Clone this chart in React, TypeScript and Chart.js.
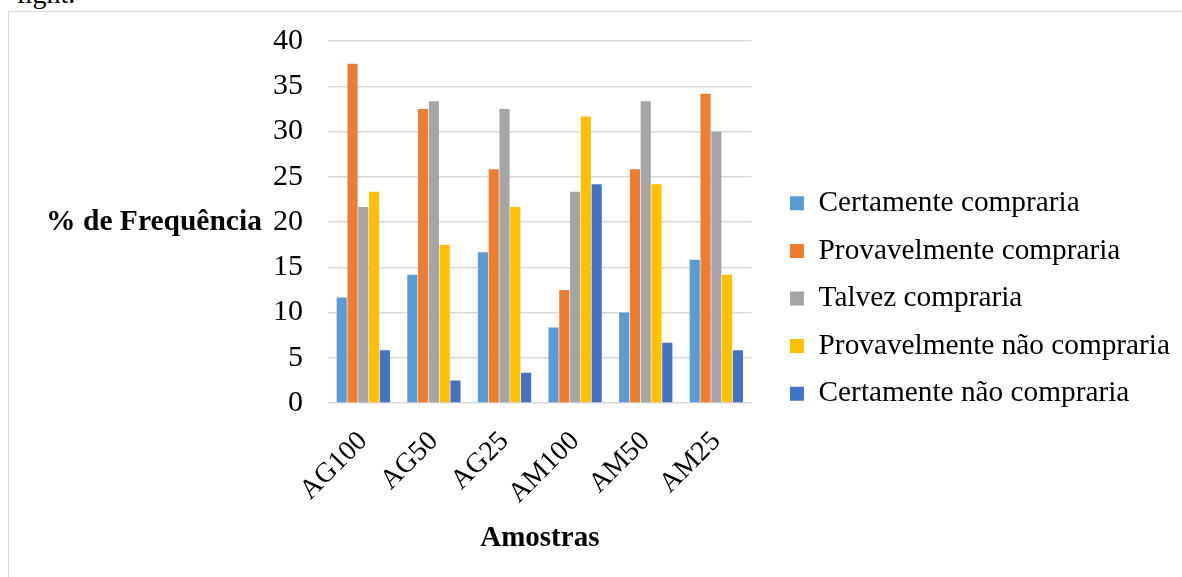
import React, { useEffect, useRef } from "react";
import { Chart, registerables } from "chart.js";

Chart.register(...registerables);

const categories = ["AG100", "AG50", "AG25", "AM100", "AM50", "AM25"];
const seriesLabels = [
  "Certamente compraria",
  "Provavelmente compraria",
  "Talvez compraria",
  "Provavelmente não compraria",
  "Certamente não compraria",
];
const certamenteCompraria = [11.67, 14.17, 16.67, 8.33, 10.0, 15.83];
const provavelmenteCompraria = [37.5, 32.5, 25.83, 12.5, 25.83, 34.17];
const talvezCompraria = [21.67, 33.33, 32.5, 23.33, 33.33, 30.0];
const provavelmenteNaoCompraria = [23.33, 17.5, 21.67, 31.67, 24.17, 14.17];
const certamenteNaoCompraria = [5.83, 2.5, 3.33, 24.17, 6.67, 5.83];
const seriesColors = ["#5B9BD5", "#ED7D31", "#A5A5A5", "#FFC000", "#4472C4"];
const yMin = 0;
const yMax = 40;
const yStep = 5;
const yTitle = "% de Frequência";
const xTitle = "Amostras";

const SERIF = '"Liberation Serif", "Times New Roman", serif';

const yTitlePlugin = {
  id: "yTitleHorizontal",
  afterDraw(chart: any) {
    const ctx = chart.ctx;
    ctx.save();
    ctx.font = `bold 29.5px ${SERIF}`;
    ctx.fillStyle = "#000";
    ctx.textAlign = "center";
    ctx.textBaseline = "alphabetic";
    ctx.fillText(yTitle, 145, 218);
    ctx.restore();
  },
};

export default function App() {
  const ref = useRef<HTMLCanvasElement>(null);
  useEffect(() => {
    if (!ref.current) return;
    const values = [
      certamenteCompraria,
      provavelmenteCompraria,
      talvezCompraria,
      provavelmenteNaoCompraria,
      certamenteNaoCompraria,
    ];
    const chart = new Chart(ref.current, {
      type: "bar",
      data: {
        labels: categories,
        datasets: values.map((d, i) => ({
          label: seriesLabels[i],
          data: d,
          backgroundColor: seriesColors[i],
          borderWidth: 0,
          categoryPercentage: 0.764,
          barPercentage: 0.94,
        })),
      },
      plugins: [yTitlePlugin],
      options: {
        animation: false,
        responsive: false,
        devicePixelRatio: 1,
        layout: { padding: { top: 29, bottom: 21, left: 0, right: 2 } },
        plugins: {
          tooltip: { enabled: false },
          legend: {
            position: "right",
            align: "center",
            maxWidth: 440,
            labels: {
              boxWidth: 14,
              boxHeight: 14,
              padding: 18.3,
              color: "#000",
              font: { family: SERIF, size: 29.3 },
            },
          },
        },
        scales: {
          x: {
            grid: { display: false },
            border: { display: false },
            ticks: {
              color: "#000",
              font: { family: SERIF, size: 28 },
              maxRotation: 45,
              minRotation: 45,
              padding: 14,
            },
            title: {
              display: true,
              text: xTitle,
              color: "#000",
              font: { family: SERIF, size: 29, weight: "bold" },
              padding: { top: 0, bottom: 0 },
            },
            afterFit(scale: any) {
              scale.height = 153;
            },
          },
          y: {
            min: yMin,
            max: yMax,
            grid: {
              color: "#d9d9d9",
              lineWidth: 1.5,
              drawTicks: true,
              tickLength: 22,
              tickColor: "rgba(0,0,0,0)",
            },
            border: { display: false },
            ticks: {
              stepSize: yStep,
              color: "#000",
              font: { family: SERIF, size: 30 },
              padding: 3,
            },
            afterFit(scale: any) {
              scale.width = 319;
            },
          },
          gap: {
            type: "linear",
            position: "right",
            display: true,
            grid: { display: false },
            border: { display: false },
            ticks: { display: false },
            afterFit(scale: any) {
              scale.width = 20;
            },
          },
        },
      } as any,
    });
    return () => chart.destroy();
  }, []);

  return (
    <div
      style={{
        position: "absolute",
        left: 0,
        top: 0,
        width: 1182,
        height: 577,
        overflow: "hidden",
        background: "#fff",
      }}
    >
      <div
        style={{
          position: "absolute",
          left: 17,
          top: -20,
          fontFamily: SERIF,
          fontSize: 28,
          lineHeight: "28px",
          color: "#000",
          whiteSpace: "nowrap",
        }}
      >
        light.
      </div>
      <div
        style={{
          position: "absolute",
          left: 8,
          top: 11,
          width: 1200,
          height: 600,
          borderLeft: "1px solid #d9d9d9",
          borderTop: "1px solid #d9d9d9",
        }}
      >
        <canvas
          ref={ref}
          width={1173}
          height={565}
          style={{ display: "block", width: 1173, height: 565 }}
        />
      </div>
    </div>
  );
}
